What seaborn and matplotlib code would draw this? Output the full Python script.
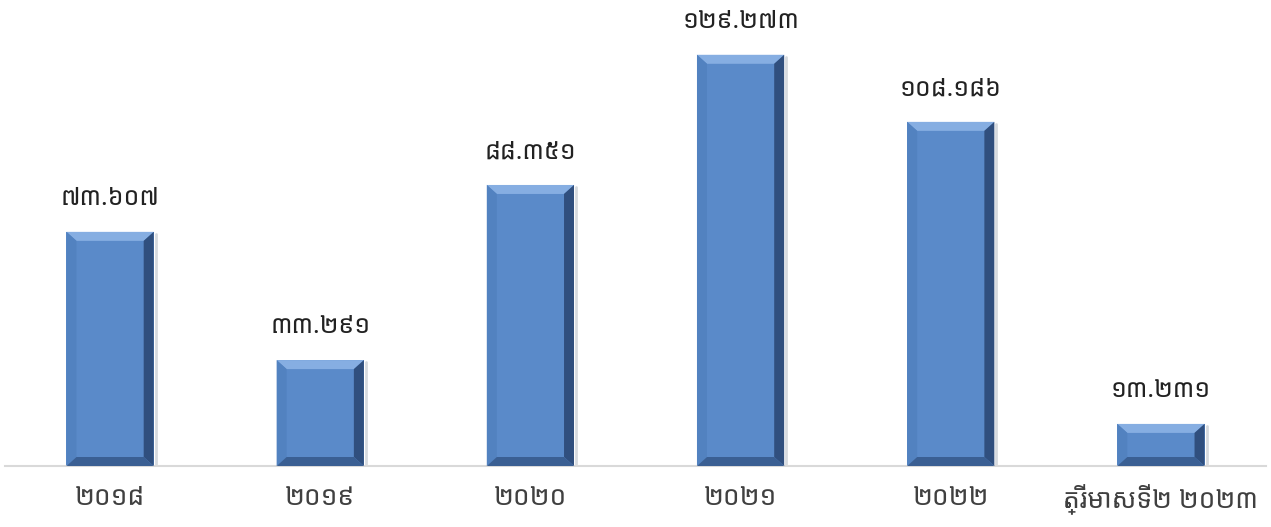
import seaborn as sns
import matplotlib.pyplot as plt
import pandas as pd
from matplotlib.patches import Polygon

categories = ['២០១៨', '២០១៩', '២០២០', '២០២១', '២០២២', 'ត្រីមាសទី២ ២០២៣']
values = [73.607, 33.291, 88.351, 129.273, 108.186, 13.231]
value_labels = ['៧៣.៦០៧', '៣៣.២៩១', '៨៨.៣៥១', '១២៩.២៧៣', '១០៨.១៨៦', '១៣.២៣១']

sns.set_style('white')
plt.rcParams['font.family'] = ['Noto Sans Khmer', 'Noto Sans', 'DejaVu Sans']

df = pd.DataFrame({'cat': categories, 'val': values})

fig = plt.figure(figsize=(12.71, 5.27), dpi=100)
ax = fig.add_axes([5 / 1271, 61 / 527, 1261 / 1271, 466 / 527])
sns.barplot(data=df, x='cat', y='val', color='#5A8AC9', width=0.415,
            saturation=1, errorbar=None, ax=ax, zorder=2)
ax.set_xlim(-0.5, 5.5)
ax.set_ylim(0, 146.5)

# bevel look on each bar
ppx = 6 / 1261
ppy = 146.5 / 466
bx, by = 10 * ppx, 9 * ppy
for p in ax.patches:
    x0, y0 = p.get_x(), p.get_y()
    x1, y1 = x0 + p.get_width(), y0 + p.get_height()
    p.set_edgecolor('none')
    faces = [
        ([(x0, y1), (x1, y1), (x1 - bx, y1 - by), (x0 + bx, y1 - by)], '#86AEE2'),
        ([(x0, y0), (x0, y1), (x0 + bx, y1 - by), (x0 + bx, y0 + by)], '#5282C0'),
        ([(x1, y0), (x1, y1), (x1 - bx, y1 - by), (x1 - bx, y0 + by)], '#304F7E'),
        ([(x0, y0), (x1, y0), (x1 - bx, y0 + by), (x0 + bx, y0 + by)], '#3A5F93'),
    ]
    for pts, c in faces:
        ax.add_patch(Polygon(pts, closed=True, facecolor=c, edgecolor='none', zorder=3))
    ax.plot([x1 + 2 * ppx, x1 + 2 * ppx], [y0, y1 - 2 * ppy], color='#9AA3AE', lw=2, alpha=0.4, zorder=1)

for i, (v, lab) in enumerate(zip(values, value_labels)):
    ax.text(i, v + 6.5, lab, ha='center', va='bottom', fontsize=18,
            fontweight='light', color='#222222')

ax.set_xlabel('')
ax.set_ylabel('')
ax.set_yticks([])
ax.tick_params(axis='x', length=0, labelsize=19, labelcolor='#404040', pad=13)
for t in ax.get_xticklabels():
    t.set_fontweight('light')
for s in ['top', 'right', 'left']:
    ax.spines[s].set_visible(False)
ax.spines['bottom'].set_color('#D9D9D9')
ax.spines['bottom'].set_linewidth(1.5)

fig.savefig('out.png', dpi=100)
